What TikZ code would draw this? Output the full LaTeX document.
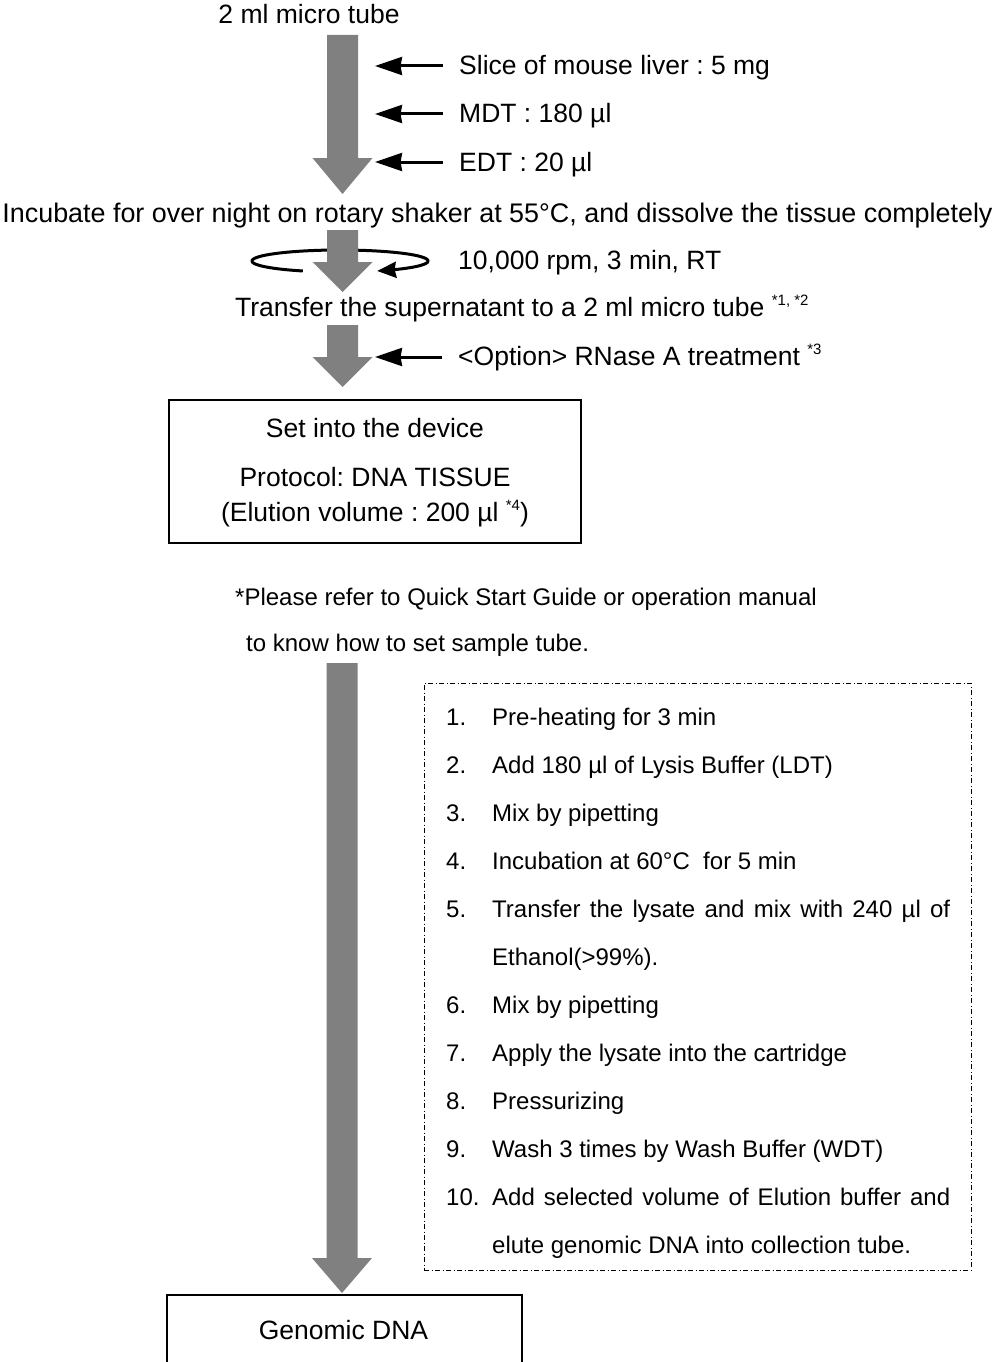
\documentclass[tikz,border=0pt]{standalone}
\usepackage{fontspec}
\setmainfont{Liberation Sans}
\usetikzlibrary{arrows.meta}
\definecolor{arrowgray}{HTML}{808080}
\newcommand\fnmark[1]{\raisebox{0.40em}{\fontsize{15}{15}\selectfont #1}}
% gray block arrow: x centre, top y, tip y, head length
\newcommand\grayarrow[4]{%
  \fill[arrowgray] ({#1-15.5},#2) -- ({#1+15.5},#2) -- ({#1+15.5},{#3-#4}) --
    ({#1+30},{#3-#4}) -- (#1,#3) -- ({#1-30},{#3-#4}) -- ({#1-15.5},{#3-#4}) -- cycle;}
\frenchspacing
\begin{document}
\begin{tikzpicture}[x=1pt,y=-1pt,
  txt/.style={inner sep=0pt, font=\fontsize{26.5}{30}\selectfont, anchor=base west},
  ctxt/.style={inner sep=0pt, font=\fontsize{26.5}{30}\selectfont, anchor=base},
  lst/.style={inner sep=0pt, font=\fontsize{24}{28}\selectfont, anchor=base west},
  feed/.style={line width=3pt, -{Stealth[length=27pt,width=18pt,inset=1.5pt]}},
  spin/.style={line width=3pt, -{Stealth[length=19pt,width=16pt,inset=1.5pt]}},
  stepbox/.style={draw, line width=1.8pt, inner sep=0pt},
  listbox/.style={draw, line width=1pt, inner sep=0pt, dash pattern=on 5pt off 2.5pt on 1pt off 2.5pt},
]
\useasboundingbox (0,0) rectangle (994,1362);
\clip (0,0) rectangle (994,1362);

% ---- top section ----
\node[ctxt] (tube) at (309,24) {2 ml micro tube};
\node[txt] (slice) at (459,75) {Slice of mouse liver : 5 mg};
\node[txt] (mdt) at (459,123) {MDT : 180 µl};
\node[txt] (edt) at (459,171) {EDT : 20 µl};
\node[ctxt, font=\fontsize{26.9}{30}\selectfont] (incub) at (497.5,222) {Incubate for over night on rotary shaker at 55°C, and dissolve the tissue completely};
\node[txt] (spinlbl) at (458,269) {10,000 rpm, 3 min, RT};
\node[txt] (super) at (235,316) {Transfer the supernatant to a 2 ml micro tube \fnmark{*1, *2}};
\node[txt] (rnase) at (458,365) {<Option> RNase A treatment \fnmark{*3}};

\grayarrow{342.5}{35}{194}{36}
\coordinate (in1) at (375,66);
\coordinate (in2) at (375,114);
\coordinate (in3) at (375,162);
\draw[feed] ([xshift=-16pt,yshift=9pt]slice.base west) -- (in1);
\draw[feed] ([xshift=-16pt,yshift=9pt]mdt.base west) -- (in2);
\draw[feed] ([xshift=-16pt,yshift=9pt]edt.base west) -- (in3);

% centrifuge rotation
\draw[spin] plot[domain=115:425, samples=90, smooth] ({340+88*cos(\x)},{261+11*sin(\x)});
\grayarrow{342.5}{230}{292}{30}

\grayarrow{342.5}{325}{387}{30}
\coordinate (in4) at (375,357);
\draw[feed] ([xshift=-16pt,yshift=8pt]rnase.base west) -- (in4);

% ---- device box ----
\node[stepbox, minimum width=412pt, minimum height=143pt] (device) at (375,471.5) {};
\node[ctxt] (dev1) at (375,437) {Set into the device};
\node[ctxt] (dev2) at (375,486) {Protocol: DNA TISSUE};
\node[ctxt] (dev3) at (375,521) {(Elution volume : 200 µl \fnmark{*4})};

\node[lst] (note1) at (235,605) {*Please refer to Quick Start Guide or operation manual};
\node[lst] (note2) at (246,651) {to know how to set sample tube.};

% ---- long arrow and program steps ----
\grayarrow{342}{663}{1293}{35}

\node[listbox, minimum width=547pt, minimum height=587pt] (steps) at (697.5,976.5) {};
\node[lst] (n1) at (446,725.5) {1.};
\node[lst] (s1) at (492,725.5) {Pre-heating for 3 min};
\node[lst] (n2) at (446,773.5) {2.};
\node[lst] (s2) at (492,773.5) {Add 180 µl of Lysis Buffer (LDT)};
\node[lst] (n3) at (446,821.5) {3.};
\node[lst] (s3) at (492,821.5) {Mix by pipetting};
\node[lst] (n4) at (446,869.5) {4.};
\node[lst] (s4) at (492,869.5) {Incubation at 60°C\ \ for 5 min};
\node[lst] (n5) at (446,917.5) {5.};
\node[lst] (s5) at (492,917.5) {\makebox[458pt][s]{Transfer the lysate and mix with 240 µl of}};
\node[lst] (s5b) at (492,965.5) {Ethanol(>99\%).};
\node[lst] (n6) at (446,1013.5) {6.};
\node[lst] (s6) at (492,1013.5) {Mix by pipetting};
\node[lst] (n7) at (446,1061.5) {7.};
\node[lst] (s7) at (492,1061.5) {Apply the lysate into the cartridge};
\node[lst] (n8) at (446,1109.5) {8.};
\node[lst] (s8) at (492,1109.5) {Pressurizing};
\node[lst] (n9) at (446,1157.5) {9.};
\node[lst] (s9) at (492,1157.5) {Wash 3 times by Wash Buffer (WDT)};
\node[lst] (n10) at (446,1205.5) {10.};
\node[lst] (s10) at (492,1205.5) {\makebox[458pt][s]{Add selected volume of Elution buffer and}};
\node[lst] (s10b) at (492,1253.5) {elute genomic DNA into collection tube.};

% ---- result ----
\node[stepbox, minimum width=355pt, minimum height=140pt, anchor=north west] (gdna) at (166,1294) {};
\node[ctxt] (gdnatxt) at (343.5,1339) {Genomic DNA};
\end{tikzpicture}
\end{document}
